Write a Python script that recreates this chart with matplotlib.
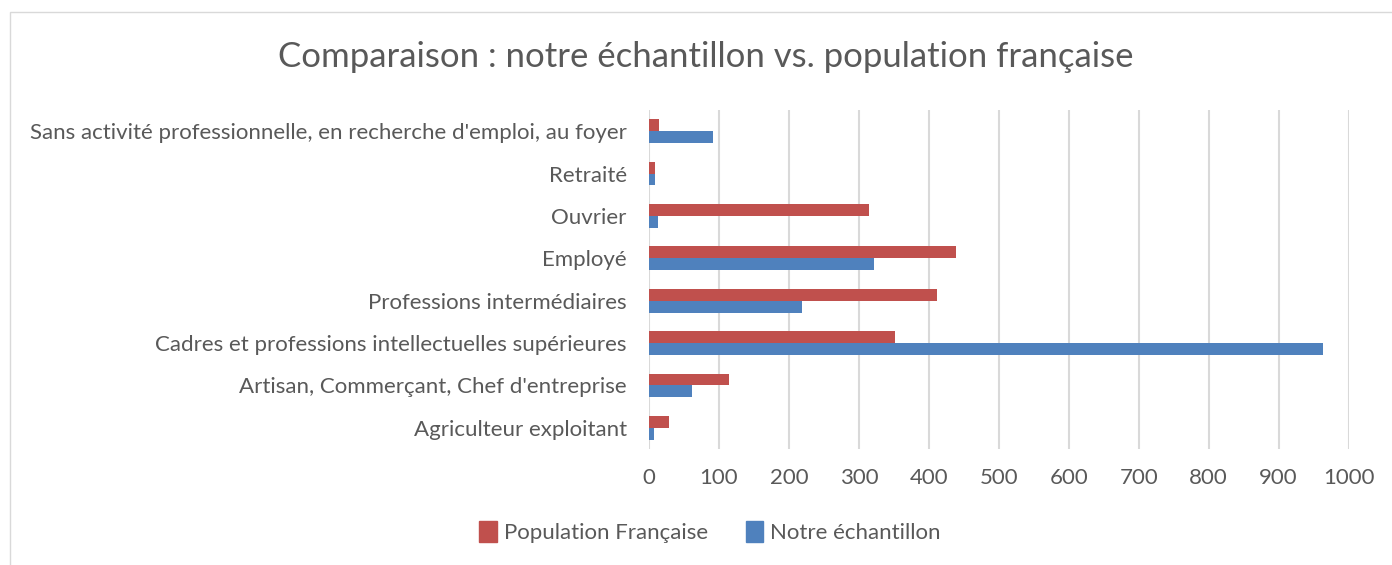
import numpy as np
import matplotlib.pyplot as plt
from matplotlib.patches import Rectangle, Patch

# ---- DATA ----
categories = [
    "Agriculteur exploitant",
    "Artisan, Commerçant, Chef d'entreprise",
    "Cadres et professions intellectuelles supérieures",
    "Professions intermédiaires",
    "Employé",
    "Ouvrier",
    "Retraité",
    "Sans activité professionnelle, en recherche d'emploi, au foyer",
]
population_fr = [29, 114, 352, 412, 439, 315, 8, 15]
notre_echantillon = [7, 61, 964, 219, 322, 13, 8, 91]
x_ticks = [0, 100, 200, 300, 400, 500, 600, 700, 800, 900, 1000]

RED = "#C0504D"
BLUE = "#4F81BD"
TXT = "#595959"
GRID = "#D9D9D9"

plt.rcParams['font.family'] = ['Lato', 'DejaVu Sans']

fig = plt.figure(figsize=(13.92, 5.65), dpi=100)
ax = fig.add_axes([649 / 1392, 1 - 449 / 565, (1348.5 - 649) / 1392, (449 - 110) / 565])

# chart frame
fig.patches.append(Rectangle((10 / 1392, -0.1), 1.2, 1 - 12 / 565 + 0.1,
                             transform=fig.transFigure, fill=False,
                             edgecolor=GRID, linewidth=1))

y = np.arange(len(categories))
h = 0.28
ax.barh(y + h / 2, population_fr, height=h, color=RED, label="Population Française", zorder=3)
ax.barh(y - h / 2, notre_echantillon, height=h, color=BLUE, label="Notre échantillon", zorder=3)

ax.set_xlim(0, 1000)
ax.set_ylim(-0.5, len(categories) - 0.5)
ax.set_xticks(x_ticks)
ax.set_yticks(y)
ax.set_yticklabels(categories)
ax.tick_params(axis='both', length=0, colors=TXT, labelsize=16)
ax.tick_params(axis='x', pad=14)
ax.tick_params(axis='y', pad=16)
ax.grid(axis='x', color=GRID, linewidth=1.5, zorder=0)
for s in ax.spines.values():
    s.set_visible(False)

fig.text(706 / 1392, 1 - 57 / 565, "Comparaison : notre échantillon vs. population française",
         ha='center', va='center', fontsize=25, color=TXT)

handles = [Patch(color=RED, label="Population Française"),
           Patch(color=BLUE, label="Notre échantillon")]
fig.legend(handles=handles, loc='center', bbox_to_anchor=(710 / 1392, 1 - 532 / 565),
           ncol=2, frameon=False, fontsize=16, labelcolor=TXT,
           handlelength=0.8, handleheight=1.1, handletextpad=0.3, columnspacing=1.7)

fig.savefig("out.png", dpi=100)
